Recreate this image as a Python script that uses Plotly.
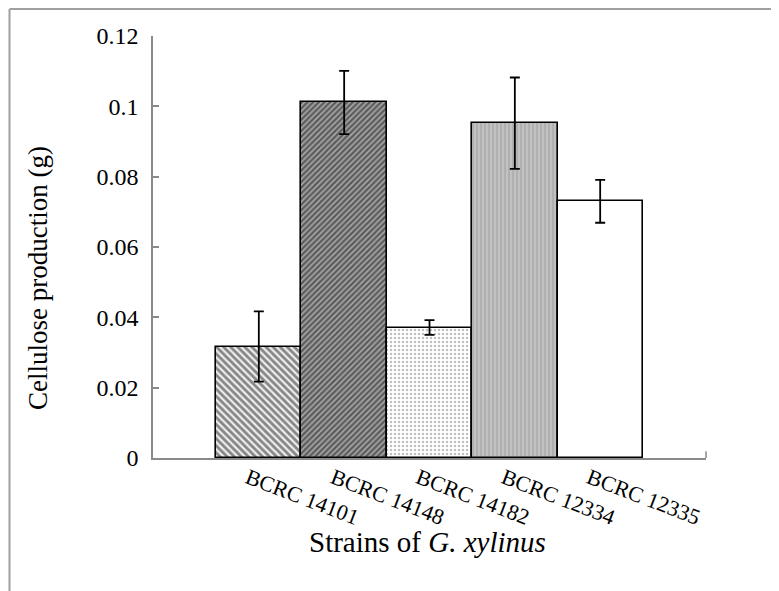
import plotly.graph_objects as go

strains = ["BCRC 14101", "BCRC 14148", "BCRC 14182", "BCRC 12334", "BCRC 12335"]
production = [0.0317, 0.1011, 0.0371, 0.0952, 0.0730]
errors = [0.0100, 0.0090, 0.0021, 0.0130, 0.0061]
y_ticks = [0, 0.02, 0.04, 0.06, 0.08, 0.1, 0.12]
y_tick_text = ["0", "0.02", "0.04", "0.06", "0.08", "0.1", "0.12"]

# per-bar fill styles (pattern shape, foreground, background, size, solidity)
styles = [
    ("\\", "#1e1e1e", "#eeeeee", 5, 0.55),
    ("/", "#101010", "#a8a8a8", 4, 0.6),
    (".", "#808080", "#ffffff", 4, 0.3),
    ("|", "#e8e8e8", "#b0b0b0", 4, 0.3),
    ("", "#ffffff", "#ffffff", 6, 0.3),
]

font_family = "Liberation Serif, Times New Roman, serif"

fig = go.Figure()
for i, (name, val, err) in enumerate(zip(strains, production, errors)):
    shape, fg, bg, size, sol = styles[i]
    pattern = dict(shape=shape, fgcolor=fg, bgcolor=bg, size=size,
                   solidity=sol, fillmode="overlay")
    fig.add_trace(go.Bar(
        x=[i],
        y=[val],
        name=name,
        width=1.0,
        marker=dict(color=bg, line=dict(color="black", width=1.6),
                    pattern=pattern),
        error_y=dict(type="data", array=[err], visible=True,
                     color="black", thickness=1.8, width=5),
        showlegend=False,
    ))

fig.update_layout(
    width=779, height=591,
    margin=dict(l=145, r=81, t=28, b=141),
    plot_bgcolor="white", paper_bgcolor="white",
    font=dict(family=font_family, color="black"),
    barmode="overlay",
    bargap=0,
    xaxis=dict(
        range=[-1.24, 5.24],
        tickvals=list(range(len(strains))), ticktext=strains, tickangle=21,
        tickfont=dict(size=22, family=font_family),
        ticklabelshift=-11, ticklabelstandoff=-3,
        showline=True, linecolor="#8a8a8a", linewidth=1.5,
        ticks="", showgrid=False, zeroline=False,
    ),
    yaxis=dict(
        range=[0, 0.12],
        tickvals=y_ticks, ticktext=y_tick_text,
        tickfont=dict(size=24, family=font_family),
        showline=True, linecolor="#8a8a8a", linewidth=1.5,
        ticks="inside", ticklen=6, tickcolor="#8a8a8a", tickwidth=1.5,
        ticklabelstandoff=8,
        showgrid=False, zeroline=False,
    ),
    annotations=[
        dict(text="Cellulose production (g)", xref="paper", yref="paper",
             x=-0.208, y=0.4265, textangle=-90, showarrow=False,
             font=dict(size=27, family=font_family), xanchor="center", yanchor="middle"),
        dict(text="Strains of <i>G. xylinus</i>", xref="paper", yref="paper",
             x=0.4955, y=-0.2, showarrow=False,
             font=dict(size=29, family=font_family), xanchor="center", yanchor="middle"),
    ],
    shapes=[
        # right-end tick on the x axis
        dict(type="line", xref="paper", yref="paper", x0=1, x1=1, y0=0, y1=0.016,
             line=dict(color="#8a8a8a", width=1.5)),
        # outer frame (top and left edges)
        dict(type="line", xref="paper", yref="paper", x0=-0.2595, x1=1.2, y0=1.064, y1=1.064,
             line=dict(color="#a0a0a0", width=2)),
        dict(type="line", xref="paper", yref="paper", x0=-0.2595, x1=-0.2595, y0=1.064, y1=-0.36,
             line=dict(color="#a0a0a0", width=2)),
    ],
)

fig.write_html("out.html")
